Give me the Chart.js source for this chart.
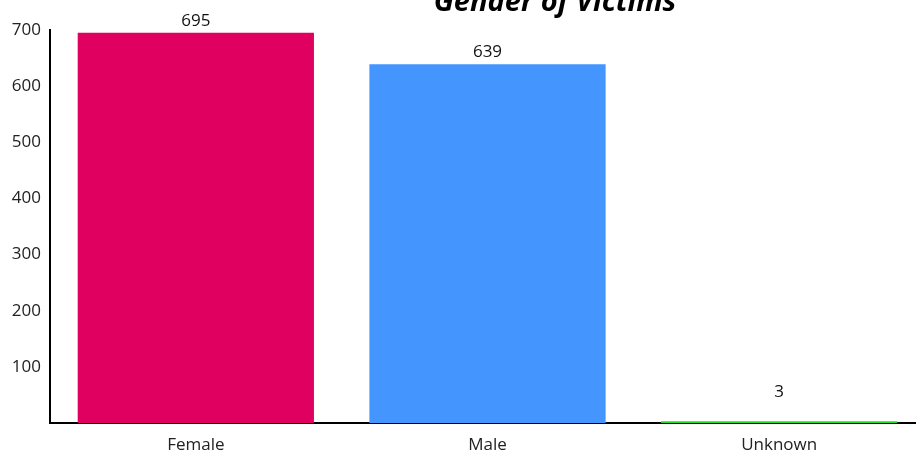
<!DOCTYPE html>
<html>
<head>
<meta charset="utf-8">
<script src="https://cdn.jsdelivr.net/npm/chart.js@4/dist/chart.umd.min.js"></script>
<style>
  html, body { margin: 0; padding: 0; overflow: hidden; background: #fff; }
  #wrap { width: 916px; height: 458px; overflow: hidden; }
</style>
</head>
<body>
<div id="wrap"><canvas id="genderBars" width="925" height="458"></canvas></div>
<script>
var categories = ['Female', 'Male', 'Unknown'];
var victimCounts = [695, 639, 3];
var barColors = ['#E00060', '#4595FF', '#1FE01F'];
var yTicks = [100, 200, 300, 400, 500, 600, 700];
var chartTitle = 'Gender of Victims';

var fontFamily = '"Open Sans", sans-serif';

// value above each bar
var valueLabels = {
    id: 'valueLabels',
    afterDatasetsDraw: function(chart) {
        var ctx = chart.ctx;
        var meta = chart.getDatasetMeta(0);
        ctx.save();
        ctx.font = '17px ' + fontFamily;
        ctx.fillStyle = '#111';
        ctx.textAlign = 'center';
        ctx.textBaseline = 'alphabetic';
        meta.data.forEach(function(bar, i) {
            var y = bar.y - 7;
            if (victimCounts[i] < 20) y = bar.y - 24; // tiny bar: label floats higher
            ctx.fillText(victimCounts[i], bar.x, y);
        });
        ctx.restore();
    }
};

// title sits off-centre and partly cut off at the top, like the original
var topTitle = {
    id: 'topTitle',
    afterDraw: function(chart) {
        var ctx = chart.ctx;
        ctx.save();
        ctx.font = 'italic bold 29px ' + fontFamily;
        ctx.fillStyle = '#000';
        ctx.textAlign = 'center';
        ctx.textBaseline = 'alphabetic';
        ctx.fillText(chartTitle, 555, 11);
        ctx.restore();
    }
};

var ctx = document.getElementById('genderBars').getContext('2d');
var genderChart = new Chart(ctx, {
    type: 'bar',
    data: {
        labels: categories,
        datasets: [{
            data: victimCounts,
            backgroundColor: barColors,
            borderWidth: 0,
            barPercentage: 0.81,
            categoryPercentage: 1
        }]
    },
    options: {
        responsive: false,
        animation: false,
        devicePixelRatio: 1,
        layout: { padding: { top: 30, left: 0, right: 0, bottom: 0 } },
        plugins: {
            legend: { display: false },
            tooltip: { enabled: false }
        },
        scales: {
            x: {
                grid: { display: false, drawTicks: false },
                border: { color: '#000', width: 2 },
                ticks: {
                    color: '#222',
                    padding: 12,
                    font: { family: fontFamily, size: 17 }
                },
                afterFit: function(scale) { scale.height = 35; }
            },
            y: {
                min: 0,
                max: 700,
                grid: { display: false, drawTicks: false },
                border: { color: '#000', width: 2 },
                afterBuildTicks: function(scale) {
                    scale.ticks = yTicks.map(function(v) { return { value: v }; });
                },
                ticks: {
                    color: '#222',
                    padding: 9,
                    font: { family: fontFamily, size: 17 }
                },
                afterFit: function(scale) { scale.width = 50; }
            }
        }
    },
    plugins: [valueLabels, topTitle]
});
</script>
</body>
</html>
